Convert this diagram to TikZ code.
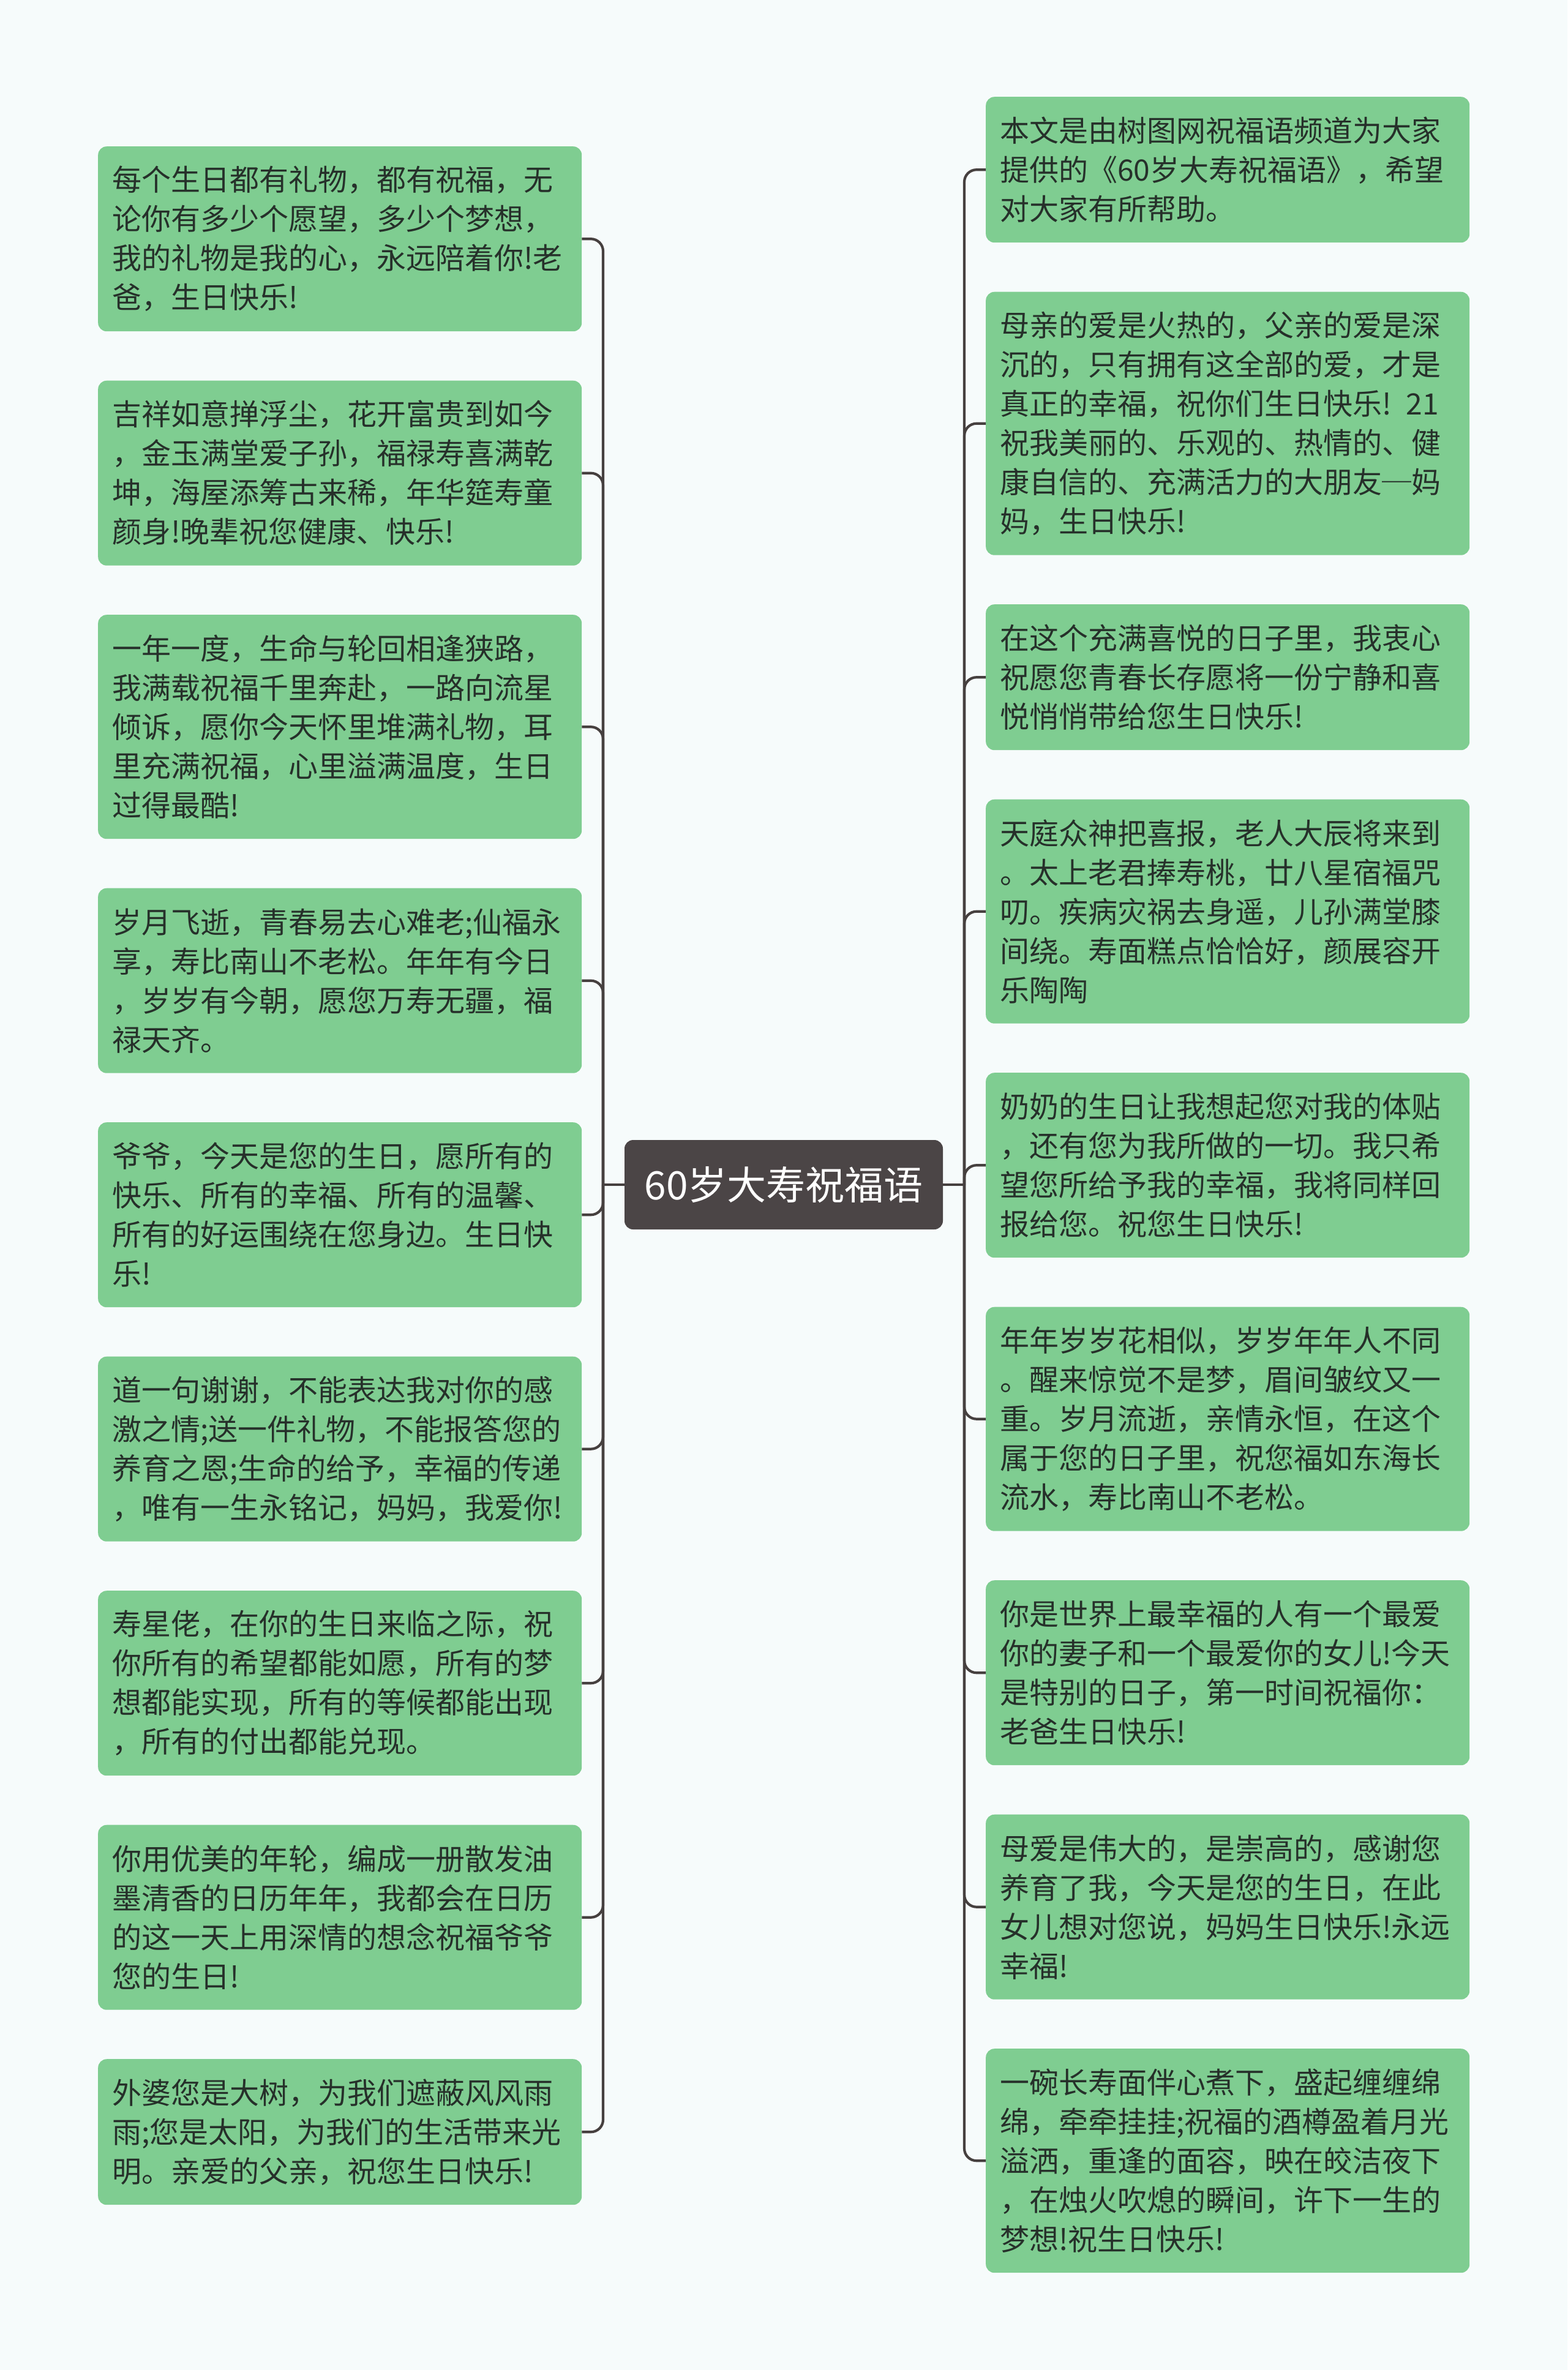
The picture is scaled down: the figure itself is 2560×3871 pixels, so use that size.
\documentclass[tikz,border=0pt]{standalone}
\usepackage{fontspec}
\setmainfont{Noto Sans CJK SC}
\definecolor{bgc}{HTML}{F6FBFB}
\definecolor{leafgreen}{HTML}{7FCD91}
\definecolor{leaftext}{HTML}{26302A}
\definecolor{rootc}{HTML}{4B4546}
\definecolor{connc}{HTML}{46403F}
\tikzset{
  leaf/.style={fill=leafgreen, rounded corners=14pt, minimum width=790pt, text width=744pt,
    inner sep=0pt, align=left, anchor=north west, text=leaftext,
    font=\fontsize{48}{64}\selectfont},
  rootbox/.style={fill=rootc, rounded corners=14pt, minimum width=520pt, minimum height=146pt,
    inner sep=0pt, text=white, font=\fontsize{64}{70}\selectfont},
  conn/.style={draw=connc, line width=4.2pt, rounded corners=20pt},
  h3/.style={minimum height=238pt},
  h4/.style={minimum height=302pt},
  h5/.style={minimum height=366pt},
  h6/.style={minimum height=430pt}
}
\begin{document}
\begin{tikzpicture}[x=1pt, y=-1pt]
\useasboundingbox (0,0) rectangle (2560,3871);
\fill[bgc] (0,0) rectangle (2560,3871);

\node[rootbox] (root) at (1280,1935) {60岁大寿祝福语};
\coordinate (lt) at (985,1935);
\coordinate (rt) at (1575,1935);

% left nodes
\node[leaf,h4] (l1) at (160,239) {每个生日都有礼物，都有祝福，无\\论你有多少个愿望，多少个梦想，\\我的礼物是我的心，永远陪着你!老\\爸，生日快乐!};
\node[leaf,h4] (l2) at (160,621.5) {吉祥如意掸浮尘，花开富贵到如今\\，金玉满堂爱子孙，福禄寿喜满乾\\坤，海屋添筹古来稀，年华筵寿童\\颜身!晚辈祝您健康、快乐!};
\node[leaf,h5] (l3) at (160,1004) {一年一度，生命与轮回相逢狭路，\\我满载祝福千里奔赴，一路向流星\\倾诉，愿你今天怀里堆满礼物，耳\\里充满祝福，心里溢满温度，生日\\过得最酷!};
\node[leaf,h4] (l4) at (160,1450.5) {岁月飞逝，青春易去心难老;仙福永\\享，寿比南山不老松。年年有今日\\，岁岁有今朝，愿您万寿无疆，福\\禄天齐。};
\node[leaf,h4] (l5) at (160,1833) {爷爷，今天是您的生日，愿所有的\\快乐、所有的幸福、所有的温馨、\\所有的好运围绕在您身边。生日快\\乐!};
\node[leaf,h4] (l6) at (160,2215.5) {道一句谢谢，不能表达我对你的感\\激之情;送一件礼物，不能报答您的\\养育之恩;生命的给予，幸福的传递\\，唯有一生永铭记，妈妈，我爱你!};
\node[leaf,h4] (l7) at (160,2598) {寿星佬，在你的生日来临之际，祝\\你所有的希望都能如愿，所有的梦\\想都能实现，所有的等候都能出现\\，所有的付出都能兑现。};
\node[leaf,h4] (l8) at (160,2980.5) {你用优美的年轮，编成一册散发油\\墨清香的日历年年，我都会在日历\\的这一天上用深情的想念祝福爷爷\\您的生日!};
\node[leaf,h3] (l9) at (160,3363) {外婆您是大树，为我们遮蔽风风雨\\雨;您是太阳，为我们的生活带来光\\明。亲爱的父亲，祝您生日快乐!};

% right nodes
\node[leaf,h3] (r1) at (1610,158) {本文是由树图网祝福语频道为大家\\提供的《60岁大寿祝福语》，希望\\对大家有所帮助。};
\node[leaf,h6] (r2) at (1610,476.5) {母亲的爱是火热的，父亲的爱是深\\沉的，只有拥有这全部的爱，才是\\真正的幸福，祝你们生日快乐! 21\\祝我美丽的、乐观的、热情的、健\\康自信的、充满活力的大朋友─妈\\妈，生日快乐!};
\node[leaf,h3] (r3) at (1610,987) {在这个充满喜悦的日子里，我衷心\\祝愿您青春长存愿将一份宁静和喜\\悦悄悄带给您生日快乐!};
\node[leaf,h5] (r4) at (1610,1305.5) {天庭众神把喜报，老人大辰将来到\\。太上老君捧寿桃，廿八星宿福咒\\叨。疾病灾祸去身遥，儿孙满堂膝\\间绕。寿面糕点恰恰好，颜展容开\\乐陶陶};
\node[leaf,h4] (r5) at (1610,1752) {奶奶的生日让我想起您对我的体贴\\，还有您为我所做的一切。我只希\\望您所给予我的幸福，我将同样回\\报给您。祝您生日快乐!};
\node[leaf,h5] (r6) at (1610,2134.5) {年年岁岁花相似，岁岁年年人不同\\。醒来惊觉不是梦，眉间皱纹又一\\重。岁月流逝，亲情永恒，在这个\\属于您的日子里，祝您福如东海长\\流水，寿比南山不老松。};
\node[leaf,h4] (r7) at (1610,2581) {你是世界上最幸福的人有一个最爱\\你的妻子和一个最爱你的女儿!今天\\是特别的日子，第一时间祝福你：\\老爸生日快乐!};
\node[leaf,h4] (r8) at (1610,2963.5) {母爱是伟大的，是崇高的，感谢您\\养育了我，今天是您的生日，在此\\女儿想对您说，妈妈生日快乐!永远\\幸福!};
\node[leaf,h5] (r9) at (1610,3346) {一碗长寿面伴心煮下，盛起缠缠绵\\绵，牵牵挂挂;祝福的酒樽盈着月光\\溢洒，重逢的面容，映在皎洁夜下\\，在烛火吹熄的瞬间，许下一生的\\梦想!祝生日快乐!};

% connectors
\draw[conn] (root.west) -- (lt);
\draw[conn] (root.east) -- (rt);
\foreach \n in {l1,l2,l3,l4,l5,l6,l7,l8,l9}
  \draw[conn] (lt) |- (\n.east);
\foreach \n in {r1,r2,r3,r4,r5,r6,r7,r8,r9}
  \draw[conn] (rt) |- (\n.west);
\end{tikzpicture}
\end{document}
